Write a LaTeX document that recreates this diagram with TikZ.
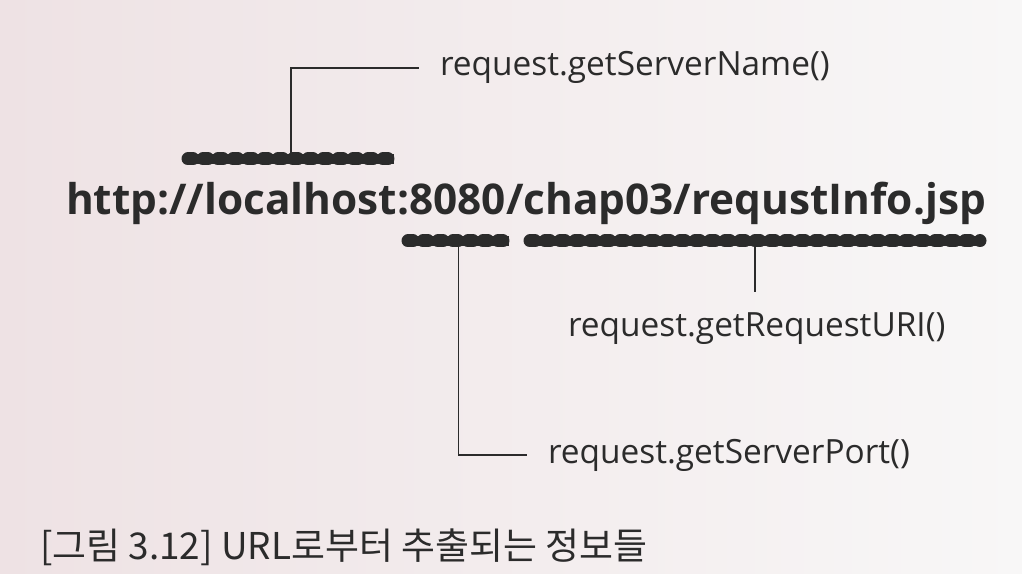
\documentclass[tikz,border=0pt]{standalone}
\usepackage{fontspec}
\setmainfont{Open Sans}
\newfontfamily\kofont{Noto Sans CJK KR}
\definecolor{ink}{HTML}{2B2B2B}
\definecolor{paperL}{HTML}{EEE2E4}
\definecolor{paperR}{HTML}{F8F7F7}

\begin{document}
\begin{tikzpicture}[x=0.02cm, y=-0.02cm,
    callout/.style={font=\fontsize{19}{21}\selectfont, text=ink, inner sep=0pt, outer sep=12pt, anchor=text},
    bar/.style={draw=ink, line width=0.2cm,
      postaction={draw=ink, line width=0.26cm, line cap=round, dash pattern=on 0.1cm off 0.2cm}},
    wire/.style={draw=ink, line width=0.9pt}]
  \shade[left color=paperL, right color=paperR] (0,0) rectangle (1022,574);
  \useasboundingbox (0,0) rectangle (1022,574);

  \node[font=\fontsize{24.1}{27}\selectfont\bfseries, text=ink, inner sep=0pt, anchor=text] (URL) at (66,215) {http://localhost:8080/chap03/requstInfo.jsp};
  \node[callout] (NAME) at (440,76) {request.getServerName()};
  \node[callout] (URINAME) at (568,337) {request.getRequestURI()};
  \node[callout] (PORT) at (548,463) {request.getServerPort()};
  \node[font=\kofont\fontsize{21}{25}\selectfont, text=ink, inner sep=0pt, anchor=text] (CAP) at (40,560) {[그림 3.12] URL로부터 추출되는 정보들};

  % underlines below and above the url
  \path (188,159) -- coordinate (HOST) (394,159);
  \path (408,241) -- coordinate (PORTBAR) (509,241);
  \path (530,241) -- coordinate (URIBAR) (980,241);

  \draw[wire] (HOST) |- (NAME.west);
  \draw[wire] (URIBAR) -- (URIBAR |- URINAME.north);
  \draw[wire] (PORTBAR) |- (PORT.west);

  \draw[bar] (188,159) -- (394,159);
  \draw[bar] (408,241) -- (509,241);
  \draw[bar] (530,241) -- (980,241);
\end{tikzpicture}
\end{document}
